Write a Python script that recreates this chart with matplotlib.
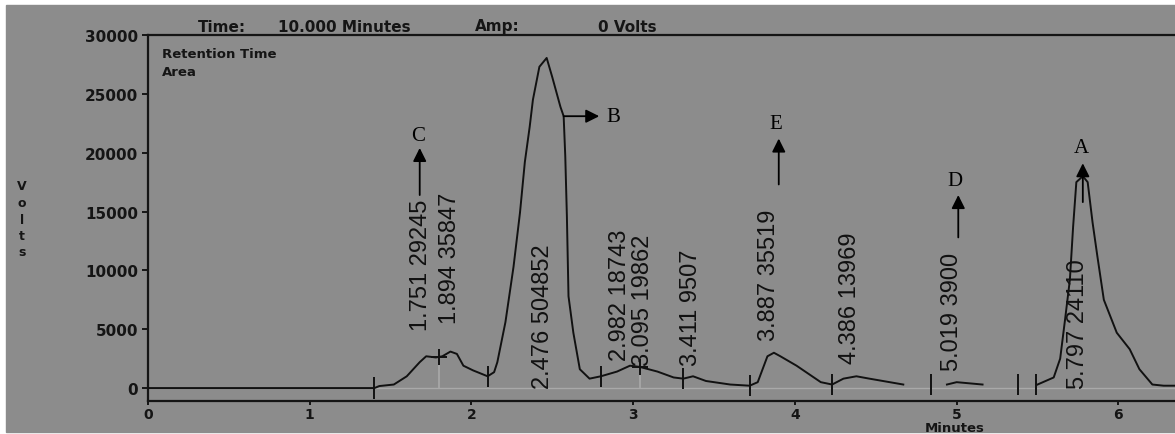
import numpy as np
import matplotlib
matplotlib.use("Agg")
import matplotlib.pyplot as plt
from matplotlib.patches import Rectangle

# chromatogram trace, minutes vs signal (thousands); nan = no trace drawn
trace_t = [0.00, 1.40, 1.43, 1.52, 1.60, 1.68, 1.72, 1.78, 1.82, 1.87, 1.91, 1.95,
           2.01, 2.10, 2.14, 2.16, 2.21, 2.26, 2.30, 2.33, 2.36, 2.38, 2.42, 2.465,
           2.50, 2.55, 2.57, 2.58, 2.59, 2.60, 2.63, 2.67, 2.73, 2.80, 2.90, 2.98,
           3.04, 3.15, 3.25, 3.31, 3.37, 3.45, 3.60, 3.72, 3.77, 3.83, 3.87, 3.91,
           4.01, 4.16, 4.23, 4.30, 4.38, 4.46, 4.67, 4.80, 4.94, 5.00, 5.16, 5.30,
           5.50, 5.60, 5.64, 5.67, 5.70, 5.72, 5.74, 5.78, 5.81, 5.84, 5.87, 5.91,
           5.99, 6.07, 6.13, 6.21, 6.28, 6.35]
trace_k = [0.0, 0.0, 0.17, 0.3, 1.0, 2.2, 2.7, 2.6, 2.7, 3.1, 2.9, 1.9,
           1.5, 1.0, 1.35, 2.2, 5.6, 10.3, 14.9, 19.2, 22.2, 24.5, 27.3, 28.05,
           26.4, 23.9, 23.1, 19.7, 14.6, 7.8, 4.7, 1.6, 0.8, 1.0, 1.4, 1.9,
           1.8, 1.4, 0.9, 0.8, 1.0, 0.6, 0.3, 0.2, 0.5, 2.7, 3.0, 2.7,
           1.9, 0.5, 0.3, 0.8, 1.0, 0.8, 0.3, np.nan, 0.3, 0.5, 0.3, np.nan,
           0.3, 0.9, 2.5, 5.8, 9.2, 13.7, 17.5, 18.0, 17.5, 14.1, 11.2, 7.5,
           4.7, 3.3, 1.6, 0.3, 0.2, 0.2]

# integration marks
boundary_t = [1.40, 2.10, 2.80, 3.31, 3.72, 4.23, 4.84, 5.38, 5.49]
apex_t = [1.80, 3.04]

# retention time / area labels
peak_labels = ["1.751 29245", "1.894 35847", "2.476 504852", "2.982 18743",
               "3.095 19862", "3.411 9507", "3.887 35519", "4.386 13969",
               "5.019 3900", "5.797 24110"]
label_t = [1.69, 1.87, 2.44, 2.92, 3.06, 3.36, 3.84, 4.34, 4.97, 5.75]
label_k = [4.9, 5.5, 0.0, 2.4, 2.0, 2.0, 4.1, 2.1, 1.5, 0.0]

# compound arrows: letter, arrow start (t, k), arrow tip (t, k), letter pos (t, k)
compounds = ["C", "B", "E", "D", "A"]
arrow_from = [(1.68, 16.4), (2.57, 23.1), (3.90, 17.3), (5.01, 12.8), (5.78, 15.8)]
arrow_to = [(1.68, 20.4), (2.79, 23.1), (3.90, 21.2), (5.01, 16.4), (5.78, 19.1)]
letter_at = [(1.67, 21.5), (2.88, 23.1), (3.88, 22.5), (4.99, 17.6), (5.77, 20.4)]

yticks = [0, 5000, 10000, 15000, 20000, 25000, 30000]
xticks = [0, 1, 2, 3, 4, 5, 6]

grey = "#8c8c8c"
ink = "#151515"
W, H = 1175, 435

fig = plt.figure(figsize=(W / 100, H / 100), dpi=100, facecolor="white")
fig.patches.append(Rectangle((6 / W, 2 / H), 1 - 6 / W, 1 - 8 / H,
                             transform=fig.transFigure, color=grey, zorder=-10))

ax = fig.add_axes([148 / W, 33 / H, 1 - 148 / W, (402 - 36) / H])
ax.set_facecolor(grey)
for s in ["left", "bottom", "top"]:
    ax.spines[s].set_linewidth(1.6)
    ax.spines[s].set_color(ink)
ax.spines["right"].set_visible(False)

t = np.array(trace_t)
v = np.array(trace_k) * 1000
ok = ~np.isnan(v)

ax.hlines(0, boundary_t[0], 6.35, color="#a9a9a9", lw=1.0, zorder=1)
ax.plot(t, v, color="#111111", lw=1.4, zorder=3)

# boundary ticks
for bt in boundary_t:
    yv = np.interp(bt, t[ok], v[ok])
    ax.vlines(bt, yv - 900, yv + 900, color="#111111", lw=1.4, zorder=4)
for at in apex_t:
    yv = np.interp(at, t[ok], v[ok])
    ax.vlines(at, 0, yv, color="#a9a9a9", lw=1.2, zorder=2)
    ax.plot([at], [yv], marker="+", ms=12, mew=1.4, color="#111111", zorder=4)

for lab, lt, lk in zip(peak_labels, label_t, label_k):
    ax.text(lt, lk * 1000, lab, rotation=90, ha="center", va="bottom",
            fontsize=17, family="Liberation Sans", color="#111111", zorder=5)

for name, a0, a1, la in zip(compounds, arrow_from, arrow_to, letter_at):
    ax.annotate("", xy=(a1[0], a1[1] * 1000), xytext=(a0[0], a0[1] * 1000),
                arrowprops=dict(arrowstyle="-|>", color="black", lw=1.3,
                                mutation_scale=20, shrinkA=0, shrinkB=0), zorder=6)
    ax.text(la[0], la[1] * 1000, name, ha="center", va="center",
            fontsize=15, family="Liberation Serif", color="black", zorder=6)

ax.set_xlim(0, 6.35)
ax.set_ylim(-1100, 30000)
ax.set_xticks(xticks)
ax.set_yticks(yticks)
ax.set_yticklabels([str(y) for y in yticks])
ax.tick_params(axis="y", direction="out", length=4, width=1.4, pad=3,
               labelsize=11, colors=ink)
ax.tick_params(axis="x", direction="out", length=3, width=1.4, pad=1,
               labelsize=10, colors=ink)
for lab in ax.get_xticklabels() + ax.get_yticklabels():
    lab.set_fontweight("bold")

# header and side texts
hdr_y = 1 - 27 / H
for xpx, txt in [(198, "Time:"), (278, "10.000 Minutes"), (475, "Amp:"), (598, "0 Volts")]:
    fig.text(xpx / W, hdr_y, txt, fontsize=11, fontweight="bold",
             va="center", color=ink)
fig.text(162 / W, 1 - 55 / H, "Retention Time", fontsize=9.5, fontweight="bold",
         va="center", color=ink)
fig.text(162 / W, 1 - 72 / H, "Area", fontsize=9.5, fontweight="bold",
         va="center", color=ink)
fig.text(22 / W, 1 - 220 / H, "V\no\nl\nt\ns", fontsize=9, fontweight="bold",
         ha="center", va="center", linespacing=1.35, color=ink)
fig.text(955 / W, 1 - 429 / H, "Minutes", fontsize=9.5, fontweight="bold",
         ha="center", va="center", color=ink)

fig.savefig("out.png", dpi=100, facecolor=fig.get_facecolor())
